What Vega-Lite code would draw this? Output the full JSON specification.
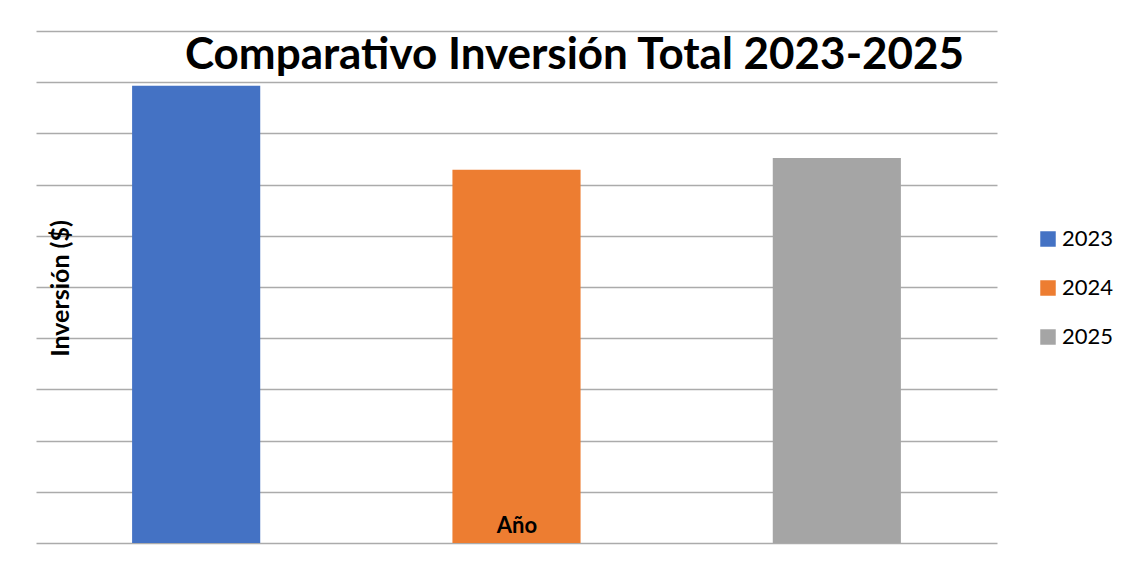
{
  "$schema": "https://vega.github.io/schema/vega-lite/v6.json",
  "autosize": "none",
  "width": 961,
  "height": 512,
  "padding": {"left": 36, "top": 31, "right": 138, "bottom": 26},
  "background": "white",
  "title": {
    "text": "Comparativo Inversión Total 2023-2025",
    "font": "Lato",
    "fontSize": 44,
    "fontWeight": "bold",
    "color": "#000000",
    "anchor": "middle",
    "frame": "group",
    "dx": 58,
    "offset": -47
  },
  "data": {
    "values": [
      {"anio": "2023", "inversion": 8.93},
      {"anio": "2024", "inversion": 7.29},
      {"anio": "2025", "inversion": 7.52}
    ]
  },
  "mark": {"type": "bar", "width": {"band": 0.4}},
  "encoding": {
    "x": {
      "field": "anio",
      "type": "nominal",
      "scale": {"paddingInner": 0, "paddingOuter": 0},
      "axis": {
        "title": "Año",
        "zindex": 2,
        "labels": false,
        "ticks": false,
        "domain": false,
        "titleFont": "Lato",
        "titleFontSize": 22,
        "titleFontWeight": "bold",
        "titleColor": "#000000",
        "titleBaseline": "alphabetic",
        "titleY": -11
      }
    },
    "y": {
      "field": "inversion",
      "type": "quantitative",
      "scale": {"domain": [0, 10], "nice": false},
      "axis": {
        "title": "Inversión ($)",
        "values": [0, 1, 2, 3, 4, 5, 6, 7, 8, 9, 10],
        "labels": false,
        "ticks": false,
        "domain": false,
        "grid": true,
        "gridColor": "#ababab",
        "gridWidth": 1.3,
        "titleFont": "Lato",
        "titleFontSize": 25,
        "titleFontWeight": "bold",
        "titleColor": "#000000",
        "titleX": 24,
        "titleY": 257,
        "titleAngle": -90,
        "titleAlign": "center",
        "titleBaseline": "middle"
      }
    },
    "color": {
      "field": "anio",
      "type": "nominal",
      "scale": {"domain": ["2023", "2024", "2025"], "range": ["#4472C4", "#ED7D31", "#A5A5A5"]},
      "legend": {
        "title": null,
        "orient": "none",
        "legendX": 1001,
        "legendY": 197,
        "symbolType": "square",
        "symbolSize": 240,
        "symbolStrokeWidth": 0,
        "labelFont": "Lato",
        "labelFontSize": 22,
        "labelColor": "#000000",
        "labelOffset": 3,
        "rowPadding": 27
      }
    }
  },
  "config": {"view": {"stroke": null}}
}
